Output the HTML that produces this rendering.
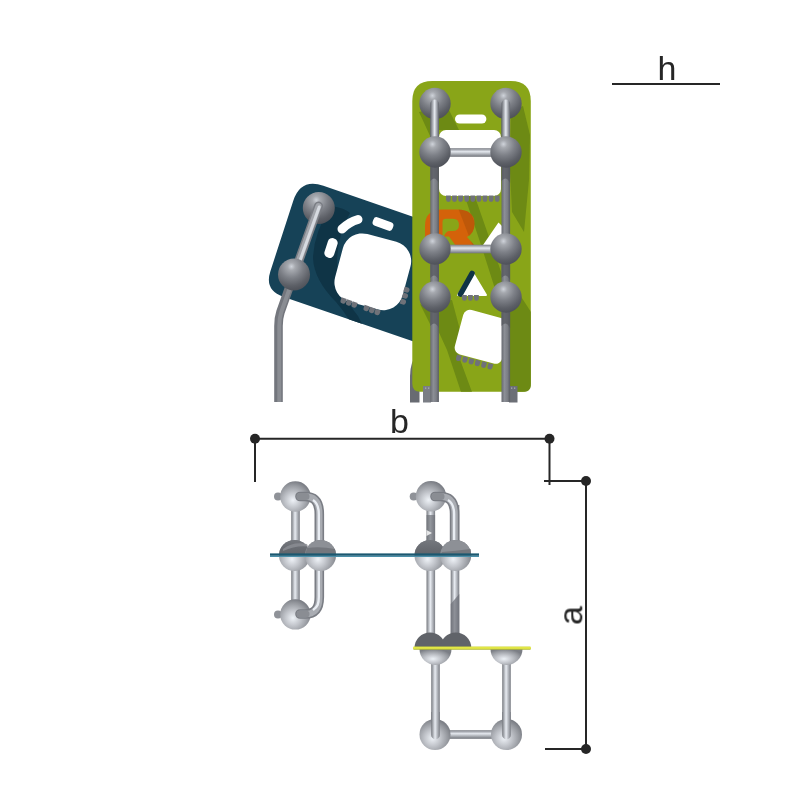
<!DOCTYPE html>
<html><head><meta charset="utf-8"><style>svg text{will-change:transform}html,body{margin:0;padding:0;background:#fff;width:800px;height:800px;overflow:hidden}svg{display:block}</style></head>
<body><svg width="800" height="800" viewBox="0 0 800 800">
<defs>
 <radialGradient id="ball" cx="0.42" cy="0.25" r="0.8">
  <stop offset="0" stop-color="#cfd3da"/>
  <stop offset="0.15" stop-color="#a6a9af"/>
  <stop offset="0.45" stop-color="#7d8087"/>
  <stop offset="0.75" stop-color="#5d6067"/>
  <stop offset="1" stop-color="#4a4d55"/>
 </radialGradient>
 <radialGradient id="tball" cx="0.42" cy="0.62" r="0.62">
  <stop offset="0" stop-color="#eef2f7"/>
  <stop offset="0.4" stop-color="#c3c6cc"/>
  <stop offset="0.8" stop-color="#95989e"/>
  <stop offset="1" stop-color="#7b7e85"/>
 </radialGradient>
 <linearGradient id="rodv" x1="0" y1="0" x2="1" y2="0">
  <stop offset="0" stop-color="#75787e"/>
  <stop offset="0.45" stop-color="#e8ecf2"/>
  <stop offset="1" stop-color="#7a7d84"/>
 </linearGradient>
 <linearGradient id="rodh" x1="0" y1="0" x2="0" y2="1">
  <stop offset="0" stop-color="#7a7d84"/>
  <stop offset="0.4" stop-color="#e3e7ed"/>
  <stop offset="1" stop-color="#6f7279"/>
 </linearGradient>
 <linearGradient id="yel" x1="0" y1="0" x2="0" y2="1">
  <stop offset="0" stop-color="#cfd63a"/>
  <stop offset="0.45" stop-color="#eef24c"/>
  <stop offset="1" stop-color="#a8b02e"/>
 </linearGradient>
 <linearGradient id="halfd" x1="0" y1="0" x2="0" y2="1">
  <stop offset="0" stop-color="#75787e"/>
  <stop offset="1" stop-color="#5f6268"/>
 </linearGradient>
 <linearGradient id="rodt" x1="0" y1="0" x2="1" y2="0">
  <stop offset="0" stop-color="#62656c"/>
  <stop offset="0.5" stop-color="#e6eaf0"/>
  <stop offset="1" stop-color="#5f626a"/>
 </linearGradient>
 <linearGradient id="rodd" x1="0" y1="0" x2="1" y2="0">
  <stop offset="0" stop-color="#676a71"/>
  <stop offset="0.35" stop-color="#8c8f96"/>
  <stop offset="0.7" stop-color="#7b7e85"/>
  <stop offset="1" stop-color="#595c63"/>
 </linearGradient>
</defs>

<clipPath id="bclip"><path d="M293.28 200.82 Q300.70 178.00 323.39 185.83L428.11 221.95 Q430.00 222.60 430.00 224.60L430.00 345.20 Q430.00 347.20 428.11 346.55L283.11 296.70 Q264.20 290.20 270.39 271.18Z"/></clipPath>
<path d="M293.28 200.82 Q300.70 178.00 323.39 185.83L428.11 221.95 Q430.00 222.60 430.00 224.60L430.00 345.20 Q430.00 347.20 428.11 346.55L283.11 296.70 Q264.20 290.20 270.39 271.18Z" fill="#164257"/>
<path clip-path="url(#bclip)" d="M331 206 Q345 208 350 213 Q338 232 337 262 Q338 292 358 316 L368 336 L357 336 Q350 318 336 302 Q314 280 313 258 Q314 232 331 206 Z" fill="#0f3446"/>
<g transform="rotate(15 372.800000 271.800000)">
<rect x="337.800000" y="236.800000" width="70" height="70" rx="20" fill="#fff"/>
</g>
<rect x="372.5" y="219.5" width="21" height="9" rx="3.5" fill="#fff" transform="rotate(20 383 224)"/>
<rect x="326" y="238" width="10" height="20" rx="4.5" fill="#fff" transform="rotate(18 331 248)"/>
<path d="M342 229 Q349 222 358 219.5" stroke="#fff" stroke-width="9" stroke-linecap="round" fill="none"/>
<path d="M341.5 297.5 h5.4 v3.2 q0 2.4 -2.7 2.4 q-2.7 0 -2.7 -2.4 Z" fill="#6f7279" transform="rotate(18 342.0 297.8)"/>
<path d="M347.0 299.5 h5.4 v3.2 q0 2.4 -2.7 2.4 q-2.7 0 -2.7 -2.4 Z" fill="#6f7279" transform="rotate(18 347.5 299.8)"/>
<path d="M352.5 301.5 h5.4 v3.2 q0 2.4 -2.7 2.4 q-2.7 0 -2.7 -2.4 Z" fill="#6f7279" transform="rotate(18 353.0 301.8)"/>
<path d="M364.5 305.0 h5.4 v3.2 q0 2.4 -2.7 2.4 q-2.7 0 -2.7 -2.4 Z" fill="#6f7279" transform="rotate(18 365.0 305.3)"/>
<path d="M370.0 307.0 h5.4 v3.2 q0 2.4 -2.7 2.4 q-2.7 0 -2.7 -2.4 Z" fill="#6f7279" transform="rotate(18 370.5 307.3)"/>
<path d="M375.5 309.0 h5.4 v3.2 q0 2.4 -2.7 2.4 q-2.7 0 -2.7 -2.4 Z" fill="#6f7279" transform="rotate(18 376.0 309.3)"/>
<path d="M404.7 286.5 v5.4 h3.2 q2.4 0 2.4 -2.7 q0 -2.7 -2.4 -2.7 Z" fill="#6f7279" transform="rotate(18 405.0 287.0)"/>
<path d="M403.2 292.5 v5.4 h3.2 q2.4 0 2.4 -2.7 q0 -2.7 -2.4 -2.7 Z" fill="#6f7279" transform="rotate(18 403.5 293.0)"/>
<path d="M401.2 298.5 v5.4 h3.2 q2.4 0 2.4 -2.7 q0 -2.7 -2.4 -2.7 Z" fill="#6f7279" transform="rotate(18 401.5 299.0)"/>
<path d="M410 402.5 L410 376 Q410 362 418 352 L419.5 352 L419.5 402.5 Z" fill="#686b72"/>
<path d="M294 274 L280.5 312 Q278.5 318 278.5 326 L278.5 402" stroke="#73767d" stroke-width="8.6" fill="none"/>
<path d="M294 274 L280.5 312 Q278.5 318 278.5 326 L278.5 402" stroke="#8a8d93" stroke-width="4" fill="none" transform="translate(0.8 0)"/>
<circle cx="318.8" cy="208" r="16" fill="url(#ball)"/>
<path d="M318.5 206 L297 266" stroke="#7b7e85" stroke-width="9" stroke-linecap="round"/>
<path d="M318.5 206 L297 266" stroke="#a3a6ac" stroke-width="6" stroke-linecap="round"/>
<path d="M319.2 207 L297.7 267" stroke="#d6dae0" stroke-width="3" stroke-linecap="round"/>
<circle cx="294" cy="274.5" r="16" fill="url(#ball)"/>
<path d="M432.300000 81.100000 L510.800000 81.100000 Q530.800000 81.100000 530.800000 101.100000 L530.800000 383.800000 Q530.800000 391.800000 522.800000 391.800000 L420.300000 391.800000 Q412.300000 391.800000 412.300000 383.800000 L412.300000 101.100000 Q412.300000 81.100000 432.300000 81.100000 Z" fill="#89a518"/>
<clipPath id="gclip"><rect x="412.300000" y="81.100000" width="118.500000" height="310.700000" rx="6"/></clipPath>
<g clip-path="url(#gclip)" fill="#6d8a14">
<path d="M419 112 L447 106 L459 130 L439 130 L431 138 Z"/>
<path d="M511 112 L523 106 L530 135 L529 180 L524 232 L512 212 L510 170 Z"/>
<path d="M464 194 L474 194 L490 240 L506 286 L506 304 L496 292 L482 248 Z"/>
<path d="M509 300 L518 292 L531 312 L531 392 L509 392 Z"/>
<path d="M436 302 L452 300 L460 330 L455 346 L472 392 L461 392 L447 350 L436 326 Z"/>
<path d="M420 304 L431 310 L431 326 Z"/>
</g>
<rect x="455" y="114.4" width="31.4" height="9.2" rx="4.6" fill="#fff"/>
<rect x="439" y="130" width="62" height="66" rx="7" fill="#fff"/>
<path d="M425 246 L425 226 Q425 209.5 442 209.5 L457 209.5 Q474.5 209.5 474.5 224 Q474.5 233 467 237 L475 246 L456 246 L449 236.5 L443.5 236.5 L443.5 246 Z M442.5 222 Q442.5 218.8 446 218.8 L453 218.8 Q459 218.8 459 225 Q459 231 452.5 231 L449 231 Q445.5 231.5 444 236.5 L442.5 236.5 Z" fill="#d4620a" fill-rule="evenodd"/>
<clipPath id="rclip"><path d="M425 246 L425 226 Q425 209.5 442 209.5 L457 209.5 Q474.5 209.5 474.5 224 Q474.5 233 467 237 L475 246 L456 246 L449 236.5 L443.5 236.5 L443.5 246 Z"/></clipPath>
<path clip-path="url(#rclip)" d="M455 200 L466 200 L490 262 L479 262 Z" fill="#7a3a06" opacity="0.25"/>
<path d="M483 245 L498.5 222.5 L506 230 L506 245 Z" fill="#fff"/>
<path d="M472.5 272.5 L486 295 L458 295 Z" fill="#fff" stroke="#fff" stroke-width="2" stroke-linejoin="round"/>
<path d="M472 273.5 L460.5 294" stroke="#0f3345" stroke-width="5.5" stroke-linecap="round"/>
<clipPath id="sqclip"><rect x="440" y="300" width="66" height="80"/></clipPath>
<g clip-path="url(#sqclip)"><rect x="465" y="308.3" width="49" height="46" rx="7" fill="#fff" transform="rotate(15 465 308.3)"/></g>
<path d="M446.0 195.5 h4.8 v4 q0 2.4 -2.4 2.4 q-2.4 0 -2.4 -2.4 Z" fill="#6f7279"/>
<path d="M452.1 195.5 h4.8 v4 q0 2.4 -2.4 2.4 q-2.4 0 -2.4 -2.4 Z" fill="#6f7279"/>
<path d="M458.2 195.5 h4.8 v4 q0 2.4 -2.4 2.4 q-2.4 0 -2.4 -2.4 Z" fill="#6f7279"/>
<path d="M464.3 195.5 h4.8 v4 q0 2.4 -2.4 2.4 q-2.4 0 -2.4 -2.4 Z" fill="#6f7279"/>
<path d="M470.4 195.5 h4.8 v4 q0 2.4 -2.4 2.4 q-2.4 0 -2.4 -2.4 Z" fill="#6f7279"/>
<path d="M476.5 195.5 h4.8 v4 q0 2.4 -2.4 2.4 q-2.4 0 -2.4 -2.4 Z" fill="#6f7279"/>
<path d="M482.6 195.5 h4.8 v4 q0 2.4 -2.4 2.4 q-2.4 0 -2.4 -2.4 Z" fill="#6f7279"/>
<path d="M488.7 195.5 h4.8 v4 q0 2.4 -2.4 2.4 q-2.4 0 -2.4 -2.4 Z" fill="#6f7279"/>
<path d="M494.8 195.5 h4.8 v4 q0 2.4 -2.4 2.4 q-2.4 0 -2.4 -2.4 Z" fill="#6f7279"/>
<path d="M462.0 295 h4.8 v3.4 q0 2.4 -2.4 2.4 q-2.4 0 -2.4 -2.4 Z" fill="#6f7279"/>
<path d="M468.0 295 h4.8 v3.4 q0 2.4 -2.4 2.4 q-2.4 0 -2.4 -2.4 Z" fill="#6f7279"/>
<path d="M474.0 295 h4.8 v3.4 q0 2.4 -2.4 2.4 q-2.4 0 -2.4 -2.4 Z" fill="#6f7279"/>
<path d="M457.0 354.5 h5 v3.5 q0 2.5 -2.5 2.5 q-2.5 0 -2.5 -2.5 Z" fill="#6f7279" transform="rotate(15 457.0 354.5)"/>
<path d="M463.3 356.2 h5 v3.5 q0 2.5 -2.5 2.5 q-2.5 0 -2.5 -2.5 Z" fill="#6f7279" transform="rotate(15 463.3 356.2)"/>
<path d="M469.6 357.9 h5 v3.5 q0 2.5 -2.5 2.5 q-2.5 0 -2.5 -2.5 Z" fill="#6f7279" transform="rotate(15 469.6 357.9)"/>
<path d="M475.9 359.6 h5 v3.5 q0 2.5 -2.5 2.5 q-2.5 0 -2.5 -2.5 Z" fill="#6f7279" transform="rotate(15 475.9 359.6)"/>
<path d="M482.2 361.3 h5 v3.5 q0 2.5 -2.5 2.5 q-2.5 0 -2.5 -2.5 Z" fill="#6f7279" transform="rotate(15 482.2 361.3)"/>
<path d="M488.5 362.9 h5 v3.5 q0 2.5 -2.5 2.5 q-2.5 0 -2.5 -2.5 Z" fill="#6f7279" transform="rotate(15 488.5 362.9)"/>
<rect x="423" y="386" width="8" height="16.5" fill="#7b7e85"/>
<rect x="509" y="386" width="8.5" height="16.5" fill="#6c6f76"/>
<rect x="425" y="387.5" width="1.3" height="1.3" fill="#a9acb2"/>
<rect x="428" y="387.5" width="1.3" height="1.3" fill="#a9acb2"/>
<rect x="511" y="387.5" width="1.3" height="1.3" fill="#a9acb2"/>
<rect x="514" y="387.5" width="1.3" height="1.3" fill="#a9acb2"/>
<rect x="430.300000" y="100" width="8.6" height="302" fill="url(#rodd)"/>
<rect x="501.500000" y="100" width="8.6" height="302" fill="url(#rodd)"/>
<path d="M430.300000 167.000000 L438.900000 167.000000 L438.900000 183.000000 Q434.600000 175.000000 430.300000 181.000000 Z" fill="#55585f" opacity="0.75"/>
<path d="M430.300000 264.000000 L438.900000 264.000000 L438.900000 280.000000 Q434.600000 272.000000 430.300000 278.000000 Z" fill="#55585f" opacity="0.75"/>
<path d="M430.300000 312.000000 L438.900000 312.000000 L438.900000 328.000000 Q434.600000 320.000000 430.300000 326.000000 Z" fill="#55585f" opacity="0.75"/>
<path d="M501.500000 167.000000 L510.100000 167.000000 L510.100000 183.000000 Q505.800000 175.000000 501.500000 181.000000 Z" fill="#55585f" opacity="0.75"/>
<path d="M501.500000 264.000000 L510.100000 264.000000 L510.100000 280.000000 Q505.800000 272.000000 501.500000 278.000000 Z" fill="#55585f" opacity="0.75"/>
<path d="M501.500000 312.000000 L510.100000 312.000000 L510.100000 328.000000 Q505.800000 320.000000 501.500000 326.000000 Z" fill="#55585f" opacity="0.75"/>
<rect x="435" y="148.200000" width="71" height="8.6" fill="url(#rodh)"/>
<rect x="435" y="244.700000" width="71" height="8.6" fill="url(#rodh)"/>
<circle cx="435.000000" cy="103.5" r="15.7" fill="url(#ball)"/>
<circle cx="506.000000" cy="103.5" r="15.7" fill="url(#ball)"/>
<rect x="430.300000" y="99.5" width="8.6" height="50" rx="4.3" fill="url(#rodt)"/>
<rect x="501.500000" y="99.5" width="8.6" height="50" rx="4.3" fill="url(#rodt)"/>
<circle cx="435.000000" cy="152.000000" r="15.7" fill="url(#ball)"/>
<circle cx="506.000000" cy="152.000000" r="15.7" fill="url(#ball)"/>
<circle cx="435.000000" cy="249.000000" r="15.7" fill="url(#ball)"/>
<circle cx="506.000000" cy="249.000000" r="15.7" fill="url(#ball)"/>
<circle cx="435.000000" cy="297.000000" r="15.7" fill="url(#ball)"/>
<circle cx="506.000000" cy="297.000000" r="15.7" fill="url(#ball)"/>
<line x1="612" y1="84" x2="720" y2="84" stroke="#262626" stroke-width="2"/>
<line x1="255" y1="438.8" x2="549" y2="438.8" stroke="#262626" stroke-width="2"/>
<line x1="255" y1="438.8" x2="255" y2="482" stroke="#262626" stroke-width="2"/>
<line x1="549.5" y1="438.8" x2="549.5" y2="485" stroke="#262626" stroke-width="2"/>
<line x1="544" y1="481" x2="586" y2="481" stroke="#262626" stroke-width="2"/>
<line x1="586" y1="481" x2="586" y2="749" stroke="#262626" stroke-width="2"/>
<line x1="545" y1="749" x2="586" y2="749" stroke="#262626" stroke-width="2"/>
<circle cx="255" cy="438.8" r="5" fill="#262626"/>
<circle cx="549.5" cy="438.8" r="5" fill="#262626"/>
<circle cx="586" cy="481" r="5" fill="#262626"/>
<circle cx="586" cy="749" r="5" fill="#262626"/>
<text x="667" y="80.4" font-family="Liberation Sans" font-size="34" fill="#262626" text-anchor="middle">h</text>
<text x="399.5" y="433.3" font-family="Liberation Sans" font-size="34" fill="#262626" text-anchor="middle">b</text>
<text transform="translate(582.3 615.5) rotate(-90)" font-family="Liberation Sans" font-size="34" fill="#262626" text-anchor="middle">a</text>
<rect x="291.200000" y="505.000000" width="8.600000" height="105.000000" fill="url(#rodv)"/>
<circle cx="278" cy="496.500000" r="4" fill="#8f9298"/>
<circle cx="295.400000" cy="496.500000" r="15.200000" fill="url(#tball)"/>
<circle cx="278" cy="614.400000" r="4" fill="#8f9298"/>
<circle cx="295.400000" cy="614.400000" r="15.200000" fill="url(#tball)"/>
<path d="M300 496.5 L305 496.5 C314.5 496.5 319.3 502 319.3 514 L319.3 597 C319.3 609 314.5 614 305 614 L300 614" stroke="#7a7d84" stroke-width="9.6" fill="none" stroke-linecap="round"/>
<path d="M300 496.5 L305 496.5 C314.5 496.5 319.3 502 319.3 514 L319.3 597 C319.3 609 314.5 614 305 614 L300 614" stroke="#a9acb2" stroke-width="6.4" fill="none" stroke-linecap="round"/>
<path d="M313 500 C317.5 503 318.8 507 318.8 514 L318.8 597 C318.8 604 317.5 607 313 610" stroke="#e9edf3" stroke-width="2.4" fill="none"/>
<path d="M300 496.5 L306 496.5" stroke="#8a8d93" stroke-width="7" stroke-linecap="round"/>
<path d="M300 614 L306 614" stroke="#8a8d93" stroke-width="7" stroke-linecap="round"/>
<circle cx="294.500000" cy="555.500000" r="15.500000" fill="url(#tball)"/>
<circle cx="320.500000" cy="555.500000" r="15.500000" fill="url(#tball)"/>
<rect x="426.500000" y="505.000000" width="8.600000" height="135.000000" fill="url(#rodv)"/>
<rect x="450.700000" y="505.000000" width="8.600000" height="135.000000" fill="url(#rodv)"/>
<rect x="426.5" y="515" width="8.6" height="30" fill="#6f7279" opacity="0.7"/>
<path d="M426.5 530 L432 533 L426.5 536 Z" fill="#fff" opacity="0.8"/>
<path d="M450.7 604 L459.3 594 L459.3 636 L450.7 636 Z" fill="#6f7279" opacity="0.75"/>
<circle cx="413.7" cy="496.5" r="4" fill="#8f9298"/>
<circle cx="431.000000" cy="496.300000" r="15.200000" fill="url(#tball)"/>
<path d="M435 496.5 L440 496.5 C449.8 496.5 454.6 502 454.6 514 L454.6 545" stroke="#7a7d84" stroke-width="9.6" fill="none" stroke-linecap="round"/>
<path d="M435 496.5 L440 496.5 C449.8 496.5 454.6 502 454.6 514 L454.6 545" stroke="#a9acb2" stroke-width="6.4" fill="none" stroke-linecap="round"/>
<path d="M448 500 C452.8 503 454.1 507 454.1 514 L454.1 545" stroke="#e9edf3" stroke-width="2.4" fill="none"/>
<path d="M435 496.5 L441 496.5" stroke="#8a8d93" stroke-width="7" stroke-linecap="round"/>
<circle cx="430.000000" cy="555.500000" r="15.500000" fill="url(#tball)"/>
<circle cx="455.700000" cy="555.500000" r="15.500000" fill="url(#tball)"/>
<rect x="431.200000" y="660.000000" width="8.600000" height="75.000000" fill="url(#rodv)"/>
<rect x="502.200000" y="660.000000" width="8.600000" height="75.000000" fill="url(#rodv)"/>
<rect x="445.000000" y="730.200000" width="52.000000" height="8.600000" fill="url(#rodh)"/>
<path d="M419.5 649 A16 16 0 0 0 451.5 649 Z" fill="url(#tball)"/>
<path d="M490.5 649 A16 16 0 0 0 522.5 649 Z" fill="url(#tball)"/>
<circle cx="435.000000" cy="734.500000" r="15.500000" fill="url(#tball)"/>
<circle cx="506.500000" cy="734.500000" r="15.500000" fill="url(#tball)"/>
<path d="M431.200000 712 L431.200000 735 A4.3 4.3 0 0 0 439.800000 735 L439.800000 712 Z" fill="url(#rodv)"/>
<path d="M502.200000 712 L502.200000 735 A4.3 4.3 0 0 0 510.800000 735 L510.800000 712 Z" fill="url(#rodv)"/>
<path d="M279 555.5 A15.5 15.5 0 0 1 310 555.5 Z" fill="url(#halfd)"/>
<path d="M283 549 Q293 541 307 544 L308 546.5 Q296 545 283 551 Z" fill="#8c8f95" opacity="0.8"/>
<path d="M305 555.5 A15.5 15.5 0 0 1 336 555.5 Z" fill="#8d9096"/>
<path d="M307 548 Q320 546 335 549 L336 555.5 L305 555.5 Z" fill="#74777d"/>
<path d="M414.5 555.5 A15.5 15.5 0 0 1 445.5 555.5 Z" fill="url(#halfd)"/>
<path d="M440.2 555.5 A15.5 15.5 0 0 1 471.2 555.5 Z" fill="#8d9096"/>
<path d="M442 552 Q455 551 470.5 549 L471.2 555.5 L440.2 555.5 Z" fill="#74777d"/>
<path d="M414.5 648 A15.5 15.5 0 0 1 445.5 648 Z" fill="#606369"/>
<path d="M440.3 648 A15.5 15.5 0 0 1 471.3 648 Z" fill="#606369"/>
<rect x="270" y="553.4" width="209" height="2.4" fill="#1b5870"/>
<rect x="270" y="555.8" width="209" height="1.2" fill="#4b8fa8"/>
<rect x="413" y="646.6" width="118" height="3.2" fill="url(#yel)" rx="1.2"/></svg></body></html>
